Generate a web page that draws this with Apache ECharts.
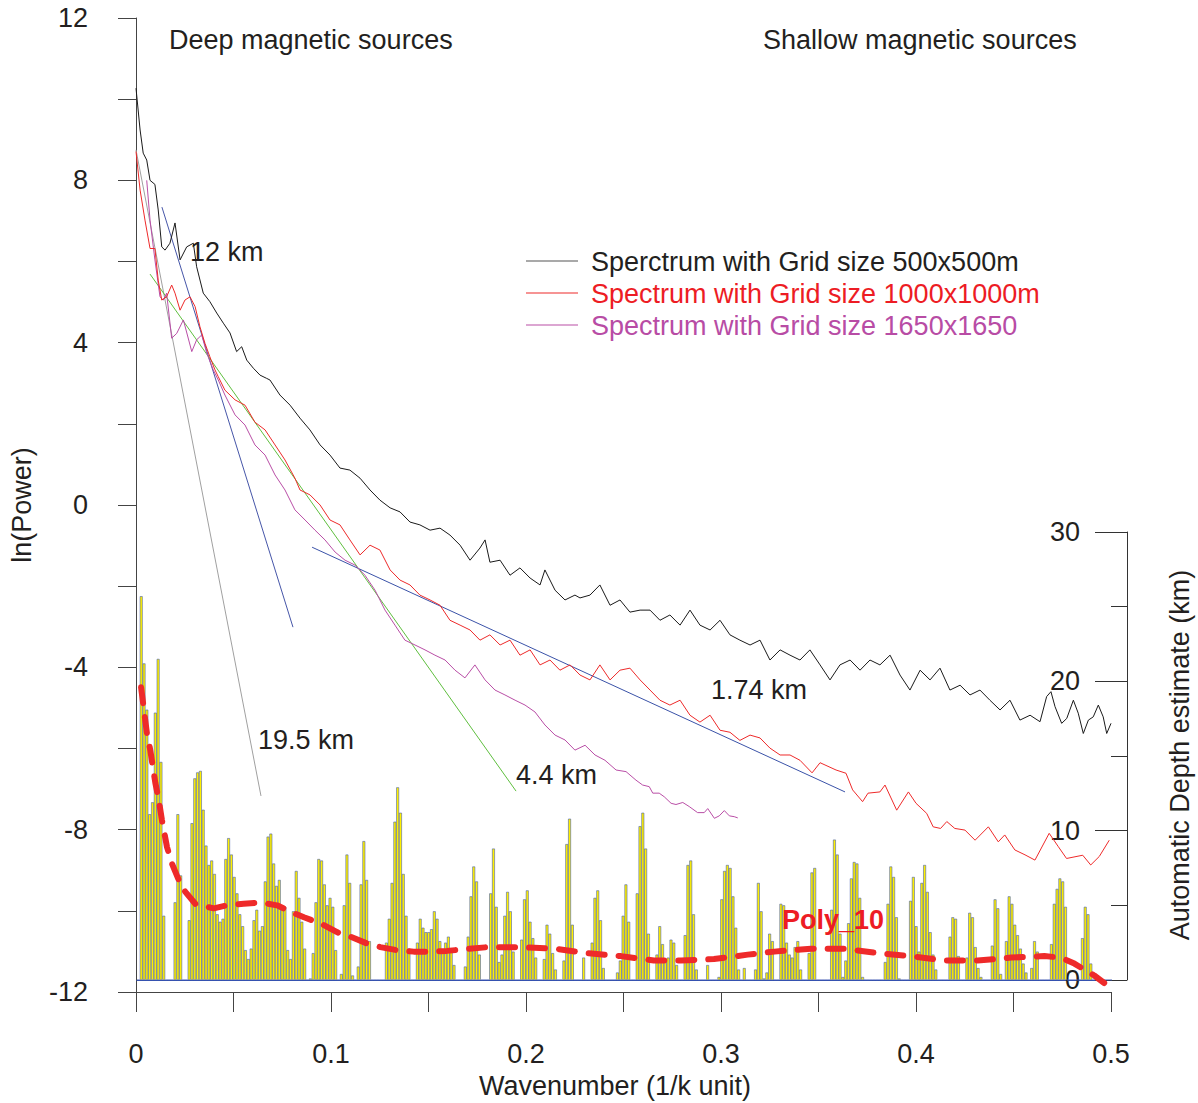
<!DOCTYPE html>
<html><head><meta charset="utf-8">
<script src="https://cdn.jsdelivr.net/npm/echarts@6/dist/echarts.min.js"></script>
<style>html,body{margin:0;padding:0;background:#fff}#c{width:1198px;height:1103px}</style>
</head><body><div id="c"></div>
<script>
// ---- Data ----
const xTickLabels = ['0', '0.1', '0.2', '0.3', '0.4', '0.5'];

// [wavenumber, ln(Power)]
const blackSpectrum = [[0,10.27],[0.0021,9.24],[0.0037,8.67],[0.0055,8.5],[0.0072,8.0],[0.0097,7.9],[0.0114,7.27],[0.0132,6.36],[0.0149,6.28],[0.0174,6.45],[0.0200,6.95],[0.0226,6.04],[0.0260,6.36],[0.0294,6.45],[0.0311,5.87],[0.0345,5.22],[0.0379,5.01],[0.0414,4.73],[0.0448,4.48],[0.0482,4.24],[0.0516,3.78],[0.0542,3.9],[0.0568,3.57],[0.0602,3.37],[0.0636,3.2],[0.0670,3.12],[0.0687,3.08],[0.0738,2.71],[0.0790,2.46],[0.0841,2.14],[0.0892,1.85],[0.0944,1.48],[0.0995,1.23],[0.1046,0.91],[0.1097,0.86],[0.1149,0.66],[0.12,0.37],[0.1251,0.12],[0.1303,-0.07],[0.1354,-0.17],[0.1405,-0.42],[0.1456,-0.49],[0.1508,-0.62],[0.1559,-0.57],[0.1610,-0.74],[0.1662,-0.99],[0.1713,-1.36],[0.1764,-1.06],[0.179,-0.86],[0.1815,-1.41],[0.1867,-1.36],[0.1918,-1.73],[0.1969,-1.55],[0.2021,-1.8],[0.2072,-1.97],[0.2097,-1.6],[0.2149,-2.1],[0.22,-2.34],[0.2251,-2.22],[0.2277,-2.29],[0.2328,-2.22],[0.2379,-1.97],[0.2431,-2.47],[0.2482,-2.34],[0.2533,-2.64],[0.2585,-2.59],[0.2636,-2.59],[0.2687,-2.84],[0.2738,-2.71],[0.279,-2.96],[0.2841,-2.59],[0.2892,-2.96],[0.2944,-3.08],[0.2995,-2.84],[0.3046,-3.2],[0.3097,-3.33],[0.3149,-3.45],[0.32,-3.33],[0.3251,-3.82],[0.3303,-3.57],[0.3354,-3.7],[0.3405,-3.82],[0.3456,-3.57],[0.3508,-3.94],[0.3559,-4.31],[0.361,-3.94],[0.3662,-3.82],[0.3713,-4.07],[0.3764,-3.82],[0.3815,-3.94],[0.3867,-3.7],[0.3918,-4.19],[0.3969,-4.56],[0.4021,-4.07],[0.4072,-4.31],[0.4123,-4.02],[0.4174,-4.56],[0.4226,-4.44],[0.4277,-4.68],[0.4328,-4.56],[0.4379,-4.81],[0.4431,-5.05],[0.4482,-4.81],[0.4533,-5.3],[0.4585,-5.18],[0.4636,-5.34],[0.4670,-4.72],[0.4692,-4.6],[0.4713,-4.97],[0.4747,-5.38],[0.4773,-5.26],[0.4807,-4.81],[0.4832,-5.13],[0.4858,-5.63],[0.4884,-5.3],[0.4909,-5.22],[0.4935,-4.93],[0.4960,-5.22],[0.4978,-5.63],[0.5,-5.38]];

const redSpectrum = [[0,8.71],[0.0021,7.76],[0.0046,7.02],[0.0072,6.32],[0.0097,6.32],[0.0114,5.54],[0.0132,5.05],[0.0157,5.13],[0.0183,5.42],[0.02,5.22],[0.0226,4.8],[0.0251,5.05],[0.0277,5.13],[0.0303,4.89],[0.0328,4.39],[0.0354,3.98],[0.0379,3.65],[0.0405,3.33],[0.0422,3.16],[0.0456,2.83],[0.0508,2.59],[0.0559,2.46],[0.061,2.04],[0.0662,1.85],[0.0713,1.48],[0.0764,1.11],[0.0815,0.66],[0.0841,0.37],[0.0892,0.25],[0.0944,0.0],[0.0995,-0.37],[0.1046,-0.49],[0.1097,-0.86],[0.1149,-1.23],[0.12,-0.99],[0.1251,-1.11],[0.1303,-1.6],[0.1354,-1.85],[0.1405,-1.97],[0.1456,-2.22],[0.1508,-2.34],[0.1559,-2.47],[0.161,-2.84],[0.1662,-2.96],[0.1713,-3.08],[0.1764,-3.33],[0.1815,-3.2],[0.1867,-3.45],[0.1918,-3.33],[0.1969,-3.7],[0.2021,-3.57],[0.2072,-3.94],[0.2123,-3.82],[0.2174,-4.07],[0.2226,-3.94],[0.2277,-4.19],[0.2328,-4.31],[0.2379,-3.94],[0.2431,-4.31],[0.2482,-4.07],[0.2533,-4.02],[0.2585,-4.31],[0.2636,-4.56],[0.2687,-4.81],[0.2738,-4.93],[0.279,-4.81],[0.2841,-5.18],[0.2892,-5.35],[0.2944,-5.18],[0.2995,-5.55],[0.3046,-5.6],[0.3097,-5.8],[0.3149,-5.67],[0.32,-5.74],[0.3251,-5.99],[0.3303,-6.16],[0.3354,-6.16],[0.3405,-6.29],[0.3467,-6.6],[0.3508,-6.35],[0.359,-6.53],[0.3641,-6.61],[0.3675,-7.02],[0.3726,-7.31],[0.3754,-7.1],[0.3815,-7.07],[0.3841,-6.9],[0.3901,-7.52],[0.3961,-7.07],[0.4,-7.35],[0.4055,-7.6],[0.4088,-7.93],[0.4126,-7.97],[0.4158,-7.8],[0.4199,-7.97],[0.4251,-8.01],[0.4303,-8.26],[0.4371,-7.93],[0.4422,-8.3],[0.4455,-8.13],[0.4507,-8.5],[0.4559,-8.62],[0.4610,-8.75],[0.4683,-8.09],[0.4730,-8.42],[0.4772,-8.71],[0.4855,-8.63],[0.4896,-8.87],[0.4940,-8.66],[0.4991,-8.26]];

const magentaSpectrum = [[0.0055,8.0],[0.0072,7.02],[0.0097,6.04],[0.0123,5.13],[0.014,5.05],[0.0157,5.22],[0.0183,4.11],[0.0209,4.23],[0.0243,4.56],[0.0286,3.78],[0.0311,4.07],[0.0337,4.19],[0.0363,3.74],[0.0396,3.33],[0.0422,3.08],[0.0456,2.71],[0.0508,2.22],[0.0559,1.97],[0.061,1.48],[0.0662,1.23],[0.0713,0.74],[0.0764,0.37],[0.0815,-0.12],[0.0867,-0.37],[0.0918,-0.62],[0.0969,-0.86],[0.1021,-1.16],[0.1072,-1.36],[0.1123,-1.48],[0.1174,-1.73],[0.1226,-2.1],[0.1277,-2.59],[0.1328,-2.96],[0.1379,-3.33],[0.1431,-3.45],[0.1482,-3.57],[0.1533,-3.7],[0.1585,-3.82],[0.1636,-4.07],[0.1687,-4.26],[0.1738,-3.94],[0.179,-4.31],[0.1841,-4.56],[0.1892,-4.68],[0.1944,-4.81],[0.1995,-4.93],[0.2046,-5.1],[0.2097,-5.42],[0.2149,-5.67],[0.22,-5.79],[0.2251,-6.04],[0.2303,-5.92],[0.2354,-6.16],[0.2405,-6.29],[0.2462,-6.53],[0.2513,-6.57],[0.2564,-6.78],[0.2598,-6.9],[0.2632,-6.94],[0.265,-7.1],[0.2683,-7.1],[0.2709,-7.19],[0.2744,-7.35],[0.2769,-7.38],[0.2804,-7.33],[0.2837,-7.43],[0.288,-7.58],[0.2914,-7.58],[0.2932,-7.48],[0.2966,-7.72],[0.2991,-7.66],[0.3017,-7.53],[0.3043,-7.66],[0.3068,-7.68],[0.3086,-7.71]];

// straight-line depth fits [wavenumber, ln(Power)]
const fit19_5km = [[0.0, 8.75], [0.0641, -7.17]];
const fit12km = [[0.0133, 7.34], [0.0805, -3.01]];
const fit4_4km = [[0.0072, 5.69], [0.1949, -7.05]];
const fit1_74km = [[0.0903, -1.04], [0.3636, -7.07]];

// automatic depth estimates (km), one per wavenumber sample
const depthBars = [
0,25.7,21.2,18.1,11.1,11.9,17.9,21.5,14.6,4.3,
0,0,0,5.2,11.1,7.0,0,0,
4.0,10.5,13.5,13.9,14.0,11.4,9.0,7.7,8.0,7.1,4.4,3.9,4.1,8.1,9.5,8.4,6.9,5.8,4.4,3.6,2.0,1.4,2.1,
4.0,4.7,3.3,3.6,6.6,9.6,9.8,7.8,6.3,6.7,5.0,4.9,2.0,1.4,4.6,7.3,5.5,3.9,2.1,
0,0.1,1.8,5.2,8.1,8.0,6.4,5.0,5.5,4.9,2.0,
0,0.4,5.0,8.4,6.5,0.3,
0,0.9,6.4,9.3,6.7,2.6,
0,0,0,0,0,2.5,4.1,6.5,10.6,12.9,11.2,7.1,4.3,2.1,
0,0,2.5,4.1,3.5,3.2,3.2,3.4,4.6,4.1,2.6,1.9,2.5,2.9,1.9,1.0,
0,0,0,0.9,2.9,5.6,7.6,6.6,1.7,
0,0,0,5.8,8.8,4.9,1.2,1.7,4.3,5.9,4.6,1.9,
0,0,2.7,5.4,6.0,3.9,2.8,1.5,
0,0,1.4,3.7,3.1,1.8,0.7,
0,0,1.3,9.1,10.8,3.7,
0,0,0,1.5,0,0,2.5,5.5,6.0,4.0,0.8,
0,0,0,0,0.5,1.3,4.3,6.4,3.9,
0,0,5.8,10.3,11.2,8.8,3.1,
0,0,1.7,3.6,2.4,1.3,1.5,2.7,2.5,1.0,
0,0,3.0,7.7,8.0,4.4,0.7,
0,0,0,1.0,0,0,0,
0.2,5.4,7.3,7.7,7.5,5.6,3.5,0.7,
0,0.8,0,0,0,
0.7,6.5,4.6,0.1,0.5,3.1,2.6,
0,0,5.1,5.0,2.5,1.7,1.5,2.2,2.6,0.7,
0,0,1.8,7.2,7.5,
0,0,0,0,0,4.7,9.4,8.4,3.1,0.2,1.3,3.8,6.8,7.9,7.8,5.5,0.2,
0,0,0,0,0,0,0,1.2,5.1,7.6,6.9,4.2,0.1,
0,0,0,5.3,6.9,3.6,1.9,6.5,7.7,5.9,3.2,1.7,0.7,
0,0,0,0,2.9,4.2,4.1,1.6,
0,0,1.5,4.5,4.2,2.2,0.8,0.2,
0,0,0,2.3,5.4,4.8,0.4,
0,2.6,5.6,5.1,3.7,3.0,2.1,1.1,0.5,
0,0.8,2.6,1.9,
0,0,0,0,2.4,5.1,6.1,6.8,6.6,4.9,
0,0,0,0,0,2.8,4.9,4.4,1.1,
0,0,0,0,0,0,0
];

// Poly_10 fit of depth estimates [wavenumber, km]
const polyFit10 = [[0.0021,19.6],[0.0051,16.5],[0.0068,15.4],[0.0094,13.2],[0.0111,12.1],[0.0128,10.7],[0.0154,8.9],[0.0179,7.8],[0.0214,6.7],[0.0248,5.9],[0.0299,5.1],[0.0359,4.9],[0.0394,4.8],[0.0462,5.0],[0.0547,5.1],[0.0633,5.2],[0.0718,5.0],[0.0800,4.5],[0.0856,4.2],[0.0940,3.8],[0.1026,3.2],[0.1094,2.9],[0.1179,2.45],[0.1248,2.2],[0.1333,2.0],[0.1419,1.9],[0.1504,1.9],[0.1590,1.95],[0.1798,2.2],[0.1969,2.2],[0.2138,2.1],[0.2311,1.8],[0.2482,1.6],[0.2651,1.3],[0.2790,1.3],[0.2959,1.4],[0.3132,1.7],[0.3268,1.9],[0.3456,2.1],[0.3627,2.1],[0.3799,1.8],[0.3969,1.6],[0.4140,1.3],[0.4311,1.3],[0.4482,1.5],[0.4653,1.6],[0.4738,1.5],[0.4807,1.1],[0.4909,0.3],[0.4960,-0.2]];

// ---- Chart ----
const FONT = '"Liberation Sans", Arial, Helvetica, sans-serif';
const TXT = '#231f20';
const chart = echarts.init(document.getElementById('c'), null, {renderer: 'svg', width: 1198, height: 1103});
const barSlots = depthBars.map((_, i) => String(i));

function txt(text, x, y, opts) {
  opts = opts || {};
  return {
    type: 'text', x: x, y: y, z: 100, rotation: opts.rot || 0,
    style: {
      text: text, fill: opts.color || TXT,
      font: (opts.bold ? 'bold ' : '') + (opts.size || 27) + 'px ' + FONT,
      align: opts.align || 'left', verticalAlign: 'middle'
    }
  };
}
function legLine(y, color) {
  return {type: 'line', z: 100, shape: {x1: 526, y1: y, x2: 578, y2: y}, style: {stroke: color, lineWidth: 1.2}};
}

const option = {
  animation: false,
  backgroundColor: '#ffffff',
  grid: [
    {left: 136, right: 87, top: 18, bottom: 111},
    {left: 137, right: 86, top: 532, bottom: 123}
  ],
  xAxis: [
    {type: 'value', gridIndex: 0, min: 0, max: 0.5, interval: 0.05,
     axisLine: {show: true, onZero: false, lineStyle: {color: '#444', width: 1}},
     axisTick: {show: true, length: 20, lineStyle: {color: '#444'}},
     axisLabel: {margin: 48, fontSize: 27, color: TXT, fontFamily: FONT,
       formatter: v => { const r = Math.round(v * 100); return r % 10 === 0 ? xTickLabels[r / 10] : ''; }},
     splitLine: {show: false}},
    {type: 'category', gridIndex: 1, data: barSlots, boundaryGap: true,
     axisLine: {show: true, onZero: false, lineStyle: {color: '#3552b0', width: 1.2}},
     axisTick: {show: false}, axisLabel: {show: false}, splitLine: {show: false}},
    {type: 'value', gridIndex: 1, min: 0, max: 0.5, show: false,
     axisLine: {onZero: false}}
  ],
  yAxis: [
    {type: 'value', gridIndex: 0, min: -12, max: 12, interval: 2,
     axisLine: {show: true, onZero: false, lineStyle: {color: '#444', width: 1}},
     axisTick: {show: true, length: 18, lineStyle: {color: '#444'}},
     axisLabel: {margin: 48, fontSize: 27, color: TXT, fontFamily: FONT,
       formatter: v => (v % 4 === 0 ? String(v) : '')},
     splitLine: {show: false}},
    {type: 'value', gridIndex: 1, position: 'right', offset: 15, min: 0, max: 30, interval: 10,
     axisLine: {show: true, onZero: false, lineStyle: {color: '#333', width: 1}},
     axisTick: {show: true, inside: true, length: 32, lineStyle: {color: '#333'}},
     minorTick: {show: true, splitNumber: 2, length: 16, lineStyle: {color: '#333'}},
     axisLabel: {inside: true, margin: 47, fontSize: 27, color: TXT, fontFamily: FONT},
     splitLine: {show: false}, minorSplitLine: {show: false}}
  ],
  series: [
    {type: 'bar', xAxisIndex: 1, yAxisIndex: 1, data: depthBars, barCategoryGap: '0%', barGap: '0%',
     itemStyle: {color: '#fff000', borderColor: '#3a55b0', borderWidth: 0.55}, z: 2},
    {type: 'line', xAxisIndex: 0, yAxisIndex: 0, data: fit19_5km, symbol: 'none', lineStyle: {color: '#a0a0a0', width: 1}, z: 3},
    {type: 'line', xAxisIndex: 0, yAxisIndex: 0, data: fit12km, symbol: 'none', lineStyle: {color: '#4656a8', width: 1}, z: 3},
    {type: 'line', xAxisIndex: 0, yAxisIndex: 0, data: fit4_4km, symbol: 'none', lineStyle: {color: '#5fbf3f', width: 1}, z: 3},
    {type: 'line', xAxisIndex: 0, yAxisIndex: 0, data: fit1_74km, symbol: 'none', lineStyle: {color: '#3a52a8', width: 1}, z: 3},
    {type: 'line', xAxisIndex: 0, yAxisIndex: 0, data: magentaSpectrum, symbol: 'none', lineStyle: {color: '#b94ea6', width: 1}, z: 4},
    {type: 'line', xAxisIndex: 0, yAxisIndex: 0, data: redSpectrum, symbol: 'none', lineStyle: {color: '#ee2a2a', width: 1}, z: 4},
    {type: 'line', xAxisIndex: 0, yAxisIndex: 0, data: blackSpectrum, symbol: 'none', lineStyle: {color: '#1a1a1a', width: 1}, z: 4},
    {type: 'line', xAxisIndex: 2, yAxisIndex: 1, data: polyFit10, symbol: 'none', clip: false,
     lineStyle: {color: '#ee2a2a', width: 6, type: [16, 14], cap: 'round', join: 'round'}, z: 6}
  ],
  graphic: [
    txt('Deep magnetic sources', 169, 40),
    txt('Shallow magnetic sources', 763, 40),
    legLine(261, '#555555'), legLine(293, '#ee2a2a'), legLine(325, '#b94ea6'),
    txt('Sperctrum with Grid size 500x500m', 591, 262),
    txt('Spectrum with Grid size 1000x1000m', 591, 294, {color: '#ed1c24'}),
    txt('Spectrum with Grid size 1650x1650', 591, 326, {color: '#b84ca5'}),
    txt('12 km', 190, 252),
    txt('19.5 km', 258, 740),
    txt('4.4 km', 516, 775),
    txt('1.74 km', 711, 690),
    txt('Poly_10', 782, 920, {color: '#ed1c24', bold: true}),
    txt('ln(Power)', 22, 505, {rot: Math.PI / 2, align: 'center'}),
    txt('Wavenumber (1/k unit)', 615, 1086, {align: 'center'}),
    txt('Automatic Depth estimate (km)', 1180, 755, {rot: Math.PI / 2, align: 'center'})
  ]
};
chart.setOption(option);
</script>
</body></html>
